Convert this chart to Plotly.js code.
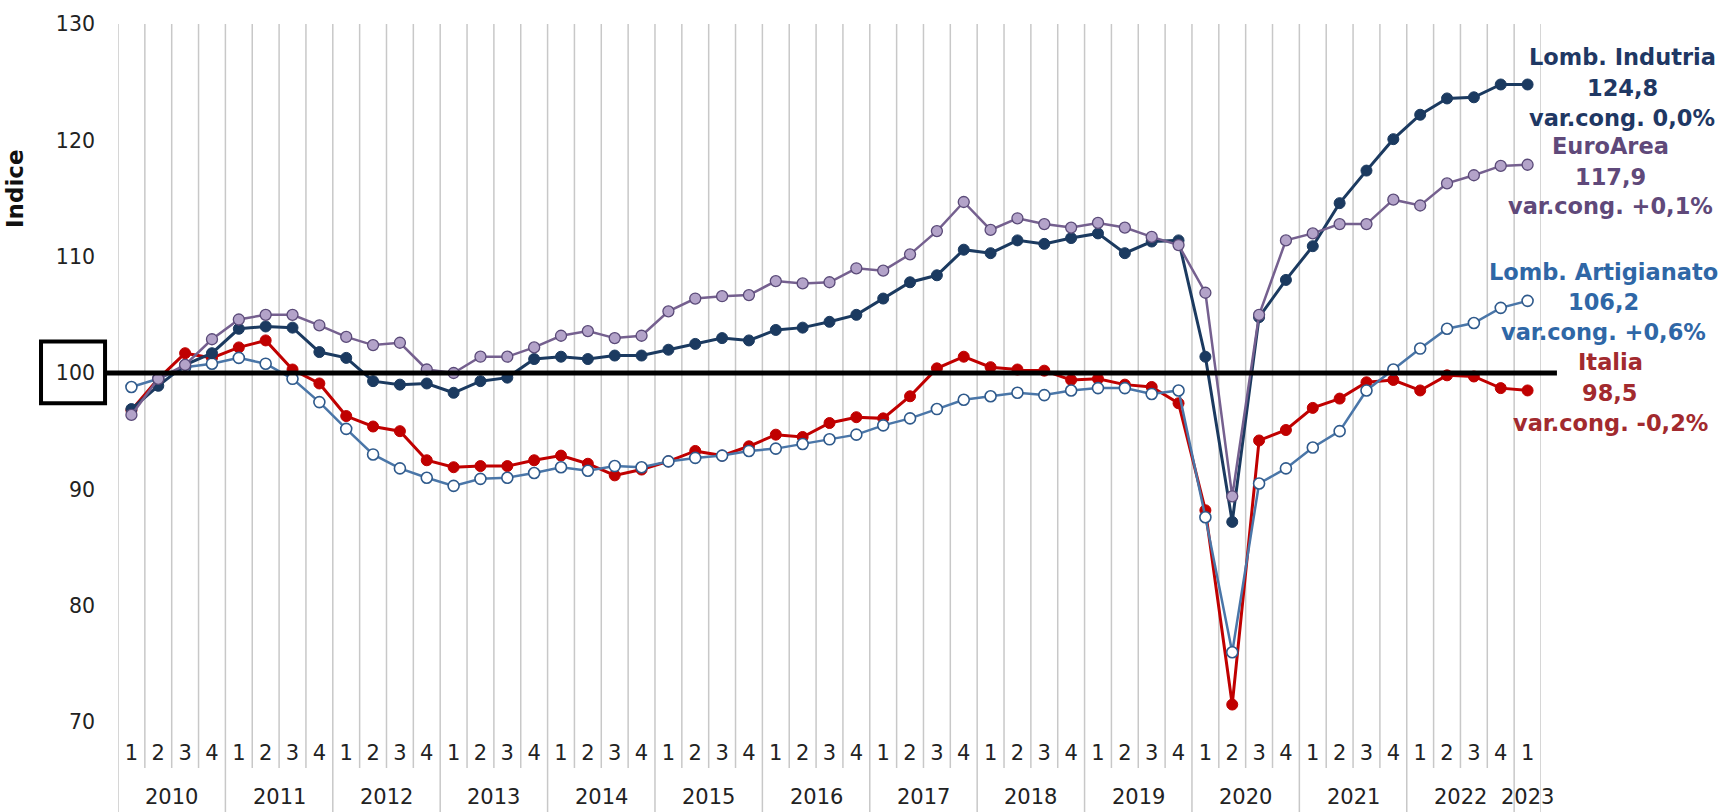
<!DOCTYPE html>
<html>
<head>
<meta charset="utf-8">
<script src="https://cdn.plot.ly/plotly-3.0.1.min.js"></script>
<style>
html,body{margin:0;padding:0;background:#fff;}
#chart{width:1731px;height:812px;}
</style>
</head>
<body>
<div id="chart"></div>
<script>
// ---- DATA ----
const yearLabels = ['2010','2011','2012','2013','2014','2015','2016','2017','2018','2019','2020','2021','2022','2023'];
const quarterLabels = [
  '1','2','3','4','1','2','3','4','1','2','3','4','1','2','3','4',
  '1','2','3','4','1','2','3','4','1','2','3','4','1','2','3','4',
  '1','2','3','4','1','2','3','4','1','2','3','4','1','2','3','4',
  '1','2','3','4','1'
];
const yTickVals = [70, 80, 90, 100, 110, 120, 130];

const lombIndustria = [
  96.9, 98.9, 100.7, 101.7, 103.8, 104.0, 103.9, 101.8,
  101.3, 99.3, 99.0, 99.1, 98.3, 99.3, 99.6, 101.2,
  101.4, 101.2, 101.5, 101.5, 102.0, 102.5, 103.0, 102.8,
  103.7, 103.9, 104.4, 105.0, 106.4, 107.8, 108.4, 110.6,
  110.3, 111.4, 111.1, 111.6, 112.0, 110.3, 111.3, 111.4,
  101.4, 87.2, 104.8, 108.0, 110.9, 114.6, 117.4, 120.1,
  122.2, 123.6, 123.7, 124.8, 124.8
];
const euroArea = [
  96.4, 99.5, 100.7, 102.9, 104.6, 105.0, 105.0, 104.1,
  103.1, 102.4, 102.6, 100.3, 100.0, 101.4, 101.4, 102.2,
  103.2, 103.6, 103.0, 103.2, 105.3, 106.4, 106.6, 106.7,
  107.9, 107.7, 107.8, 109.0, 108.8, 110.2, 112.2, 114.7,
  112.3, 113.3, 112.8, 112.5, 112.9, 112.5, 111.7, 111.0,
  106.9, 89.4, 105.0, 111.4, 112.0, 112.8, 112.8, 114.9,
  114.4, 116.3, 117.0, 117.8, 117.9
];
const italia = [
  96.8, 99.5, 101.7, 101.3, 102.2, 102.8, 100.3, 99.1,
  96.3, 95.4, 95.0, 92.5, 91.9, 92.0, 92.0, 92.5,
  92.9, 92.2, 91.2, 91.7, 92.4, 93.3, 92.9, 93.7,
  94.7, 94.5, 95.7, 96.2, 96.1, 98.0, 100.4, 101.4,
  100.5, 100.3, 100.2, 99.4, 99.5, 99.0, 98.8, 97.4,
  88.2, 71.5, 94.2, 95.1, 97.0, 97.8, 99.2, 99.4,
  98.5, 99.8, 99.7, 98.7, 98.5
];
const lombArtigianato = [
  98.8, 99.5, 100.5, 100.8, 101.3, 100.8, 99.5, 97.5,
  95.2, 93.0, 91.8, 91.0, 90.3, 90.9, 91.0, 91.4,
  91.9, 91.6, 92.0, 91.9, 92.4, 92.7, 92.9, 93.3,
  93.5, 93.9, 94.3, 94.7, 95.5, 96.1, 96.9, 97.7,
  98.0, 98.3, 98.1, 98.5, 98.7, 98.7, 98.2, 98.5,
  87.6, 76.0, 90.5, 91.8, 93.6, 95.0, 98.5, 100.3,
  102.1, 103.8, 104.3, 105.6, 106.2
];

const seriesLabels = [
  {lines: ['Lomb. Indutria', '124,8', 'var.cong. 0,0%'], color: '#1F3864'},
  {lines: ['EuroArea', '117,9', 'var.cong. +0,1%'], color: '#5F497A'},
  {lines: ['Lomb. Artigianato', '106,2', 'var.cong. +0,6%'], color: '#2F67A6'},
  {lines: ['Italia', '98,5', 'var.cong. -0,2%'], color: '#A22A2E'}
];

// ---- BUILD ----
const xIdx = quarterLabels.map((_, i) => i);
const FONT = 'DejaVu Sans, Verdana, sans-serif';

const traces = [
  {
    x: xIdx, y: italia, type: 'scatter', mode: 'lines+markers',
    line: {color: '#C00000', width: 3},
    marker: {color: '#C00000', size: 11, line: {color: '#C00000', width: 1}}
  },
  {
    x: xIdx, y: lombArtigianato, type: 'scatter', mode: 'lines+markers',
    line: {color: '#4A76A8', width: 2.5},
    marker: {color: '#FFFFFF', size: 11, line: {color: '#2F5A8C', width: 1.6}}
  },
  {
    x: xIdx, y: lombIndustria, type: 'scatter', mode: 'lines+markers',
    line: {color: '#1B3A60', width: 3},
    marker: {color: '#1B3A60', size: 11, line: {color: '#1B3A60', width: 1}}
  },
  {
    x: xIdx, y: euroArea, type: 'scatter', mode: 'lines+markers',
    line: {color: '#75608F', width: 2.5},
    marker: {color: '#B3A3C9', size: 11, line: {color: '#5A4A78', width: 1.3}}
  }
];

const shapes = [];
const n = quarterLabels.length;
for (let b = 0; b <= n; b++) {
  const isYear = (b % 4 === 0) || b === n;
  shapes.push({
    type: 'line', xref: 'x', yref: 'paper',
    x0: b - 0.5, x1: b - 0.5, y0: isYear ? -0.13 : -0.066, y1: 1,
    line: {color: '#C8C8C8', width: 1.5}, layer: 'below'
  });
}
// reference line at 100
shapes.push({
  type: 'line', xref: 'paper', yref: 'y',
  x0: -0.0091, x1: 1.0112, y0: 100, y1: 100,
  line: {color: '#000000', width: 5}, layer: 'above'
});
// box around "100"
shapes.push({
  type: 'rect', xref: 'paper', yref: 'y',
  x0: -0.0541, x1: -0.0091, y0: 97.4, y1: 102.7,
  line: {color: '#000000', width: 4}, fillcolor: 'rgba(0,0,0,0)'
});

const annotations = [];
// year labels
yearLabels.forEach((yr, k) => {
  const first = k * 4;
  const last = Math.min(first + 3, n - 1);
  annotations.push({
    xref: 'x', yref: 'paper', x: (first + last) / 2, y: -0.1075,
    text: yr, showarrow: false, xanchor: 'center', yanchor: 'middle',
    font: {family: FONT, size: 21, color: '#222'}
  });
});
// axis title
annotations.push({
  xref: 'paper', yref: 'paper', x: -0.0724, y: 0.765,
  text: '<b>Indice</b>', showarrow: false, textangle: -90,
  xanchor: 'center', yanchor: 'middle',
  font: {family: FONT, size: 23, color: '#111'}
});
// right-hand labels
const labelX = [1.0570, 1.0485, 1.0440, 1.0485];
const labelY = [
  [0.9527, 0.9083, 0.8653],
  [0.8252, 0.7808, 0.7393],
  [0.6447, 0.6017, 0.5587],
  [0.5158, 0.4713, 0.4284]
];
seriesLabels.forEach((s, k) => {
  s.lines.forEach((t, j) => {
    annotations.push({
      xref: 'paper', yref: 'paper', x: labelX[k], y: labelY[k][j],
      text: '<b>' + t + '</b>', showarrow: false,
      xanchor: 'center', yanchor: 'middle',
      font: {family: FONT, size: 22.5, color: s.color}
    });
  });
});

const layout = {
  width: 1731, height: 812,
  margin: {l: 118, r: 190, t: 24, b: 90},
  paper_bgcolor: '#fff', plot_bgcolor: '#fff',
  showlegend: false,
  xaxis: {
    range: [-0.5, n - 0.5],
    tickmode: 'array', tickvals: xIdx, ticktext: quarterLabels,
    showgrid: false, zeroline: false, showline: false, ticks: '',
    ticklabelstandoff: 16,
    tickfont: {family: FONT, size: 21, color: '#222'}
  },
  yaxis: {
    range: [70, 130],
    tickmode: 'array', tickvals: yTickVals,
    showgrid: false, zeroline: false, showline: false, ticks: '',
    ticklabelstandoff: 22,
    tickfont: {family: FONT, size: 20.5, color: '#222'}
  },
  shapes: shapes,
  annotations: annotations
};

Plotly.newPlot('chart', traces, layout, {displayModeBar: false, staticPlot: true});
</script>
</body>
</html>
